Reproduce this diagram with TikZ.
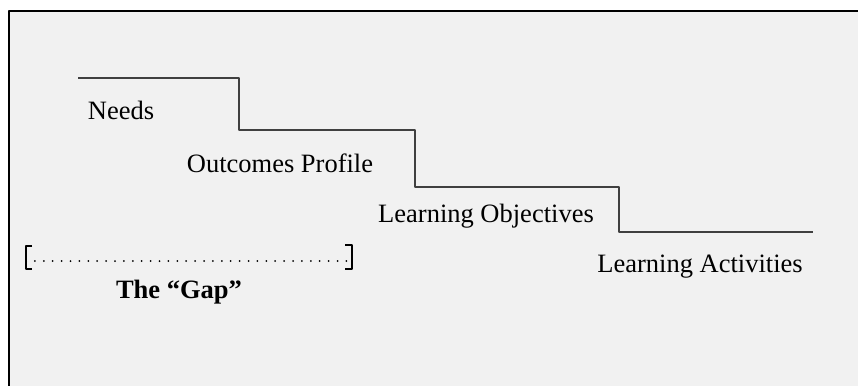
\documentclass[tikz,border=0pt]{standalone}
\usepackage{fontspec}
\setmainfont{Liberation Serif}
\usepackage{tikz}
\definecolor{panelgray}{RGB}{241,241,241}
\definecolor{stairgray}{RGB}{64,64,64}

\begin{document}
\begin{tikzpicture}[x=1pt, y=-1pt, line join = round,
    stepline/.style={draw=stairgray, line width=1.5pt},
    steplabel/.style={font=\fontsize{26.5}{30}\selectfont, inner sep=0pt, anchor=base},
    gapbracket/.style={line width=1.2pt},
    gapdots/.style={line width=2pt, line cap=round, dash pattern=on 0pt off 8.9pt}]

    \useasboundingbox (0,0) rectangle (858,385);

    % panel
    \fill[panelgray] (9,11) rectangle (862,389);
    \draw[line width=1.5pt] (9,389) -- (9,11) -- (862,11);

    % stair corners
    \coordinate (s0) at (78,78);
    \coordinate (s1) at (239,78);
    \coordinate (s2) at (239,130);
    \coordinate (s3) at (415,130);
    \coordinate (s4) at (415,187);
    \coordinate (s5) at (619,187);
    \coordinate (s6) at (619,232);
    \coordinate (s7) at (813,232);

    % stairs
    \draw[stepline] (s0) -- (s1) -- (s2) -- (s3) -- (s4) -- (s5) -- (s6) -- (s7);

    % step labels
    \node[steplabel] (needs) at (121,120) {Needs};
    \node[steplabel] (outcomes) at (280,172) {Outcomes Profile};
    \node[steplabel] (objectives) at (486,222) {Learning Objectives};
    \node[steplabel] (activities) at (700,272) {Learning Activities};

    % the gap
    \coordinate (gapL) at (26,261);
    \coordinate (gapR) at (352,261);
    \draw[gapbracket] (32,246) -- (26,246) -- (26,269) -- (32,269);
    \draw[gapbracket] (345,245) -- (352,245) -- (352,269) -- (345,269);
    \draw[gapdots] (gapL) -- (gapR);
    \node[steplabel, font=\fontsize{26.5}{30}\selectfont\bfseries] (gap) at (179,298) {The “Gap”};

\end{tikzpicture}
\end{document}
